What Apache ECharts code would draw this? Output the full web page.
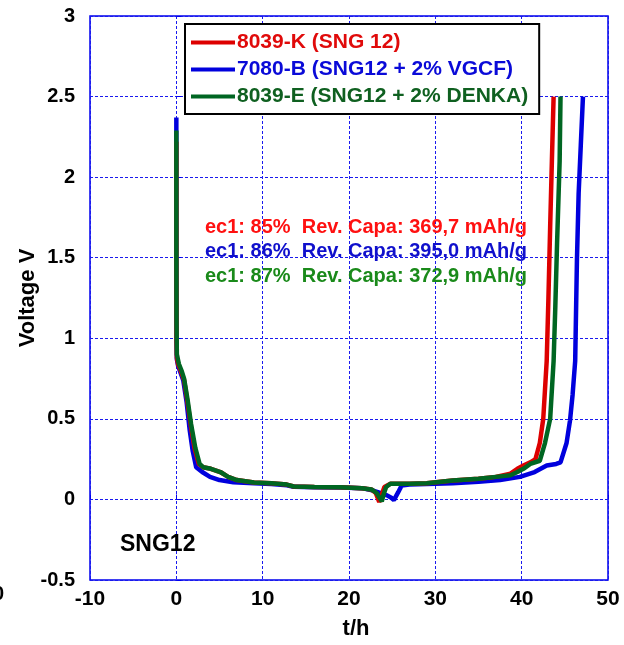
<!DOCTYPE html>
<html>
<head>
<meta charset="utf-8">
<script src="https://cdn.jsdelivr.net/npm/echarts@6/dist/echarts.min.js"></script>
<style>html,body{margin:0;padding:0;background:#fff;}#c{width:624px;height:645px;}</style>
</head>
<body>
<div id="c"></div>
<script>
// ---- data ----
const seriesNames = ['8039-K (SNG 12)', '7080-B (SNG12 + 2% VGCF)', '8039-E (SNG12 + 2% DENKA)'];
const xTicks = [-10, 0, 10, 20, 30, 40, 50];
const yTicks = [-0.5, 0, 0.5, 1, 1.5, 2, 2.5, 3];

const tRed = [0, 0.005, 0.02, 0.06, 0.2, 0.5, 0.9, 1.3, 1.7, 2.1, 2.6, 3.1, 4.0, 5.1, 6.0, 7.0, 9, 11, 12.8, 13.6, 16, 19, 21.5, 22.6, 23.1, 23.5, 23.8, 24.1, 24.8, 27, 29, 32, 35, 37, 38.7, 39.5, 40.2, 41.0, 41.6, 42.1, 42.5, 42.9, 43.1, 43.3, 43.5, 43.7];
const vRed = [2.22, 1.4, 1.0, 0.88, 0.84, 0.8, 0.74, 0.6, 0.45, 0.32, 0.22, 0.2, 0.19, 0.17, 0.14, 0.12, 0.105, 0.1, 0.092, 0.08, 0.077, 0.075, 0.07, 0.062, 0.04, -0.016, 0.03, 0.077, 0.097, 0.098, 0.1, 0.118, 0.128, 0.14, 0.16, 0.19, 0.21, 0.23, 0.25, 0.35, 0.5, 0.86, 1.25, 1.69, 2.1, 2.5];

const tBlue = [0, 0.005, 0.02, 0.06, 0.2, 0.8, 1.2, 1.55, 1.9, 2.3, 3.0, 3.9, 5.0, 6.6, 9, 11, 12.8, 13.6, 16, 19, 21.5, 22.8, 23.6, 24.4, 24.9, 25.2, 25.7, 26.1, 27, 29, 32, 35, 37.5, 39.8, 41.5, 42.9, 44.0, 44.5, 45.2, 45.6, 45.9, 46.2, 46.4, 46.6, 46.85, 47.1];
const vBlue = [2.37, 1.3, 1.0, 0.87, 0.83, 0.74, 0.6, 0.43, 0.3, 0.2, 0.17, 0.14, 0.12, 0.107, 0.1, 0.095, 0.088, 0.078, 0.076, 0.074, 0.07, 0.055, 0.04, 0.025, 0.01, -0.004, 0.045, 0.087, 0.092, 0.095, 0.1, 0.11, 0.12, 0.14, 0.17, 0.21, 0.22, 0.23, 0.35, 0.49, 0.65, 0.86, 1.48, 1.9, 2.2, 2.5];

const tGreen = [0, 0.005, 0.02, 0.06, 0.3, 0.6, 0.9, 1.3, 1.7, 2.2, 2.7, 3.1, 4.0, 5.1, 6.0, 7.0, 9, 11, 12.8, 13.6, 16, 19, 21.5, 22.6, 23.2, 23.8, 24.0, 24.3, 24.8, 27, 29, 32, 35, 37, 38.7, 39.5, 40.2, 41.0, 42.1, 42.7, 43.3, 43.7, 43.9, 44.1, 44.4, 44.5];
const vGreen = [2.29, 1.5, 1.1, 0.9, 0.84, 0.8, 0.75, 0.62, 0.47, 0.32, 0.22, 0.2, 0.19, 0.17, 0.14, 0.12, 0.105, 0.1, 0.092, 0.08, 0.077, 0.075, 0.07, 0.062, 0.04, -0.012, 0.03, 0.077, 0.097, 0.098, 0.1, 0.118, 0.128, 0.14, 0.15, 0.17, 0.19, 0.22, 0.24, 0.35, 0.5, 0.86, 1.2, 1.59, 2.1, 2.5];

const statLines = [
  'ec1: 85%  Rev. Capa: 369,7 mAh/g',
  'ec1: 86%  Rev. Capa: 395,0 mAh/g',
  'ec1: 87%  Rev. Capa: 372,9 mAh/g'
];
const sampleLabel = 'SNG12';
const xName = 't/h';
const yName = 'Voltage V';

// ---- styles ----
const lineColors = {red: '#dd0000', blue: '#0000dd', green: '#006622'};
const statColors = ['#ff1010', '#1010cc', '#1a8a1a'];
const FONT = 'Liberation Sans, Arial, Helvetica, sans-serif';
const gridBlue = '#1a1aee';

function zip(t, v) { return t.map((x, i) => [x, v[i]]); }

const chart = echarts.init(document.getElementById('c'), null, {renderer: 'canvas'});

const option = {
  backgroundColor: '#ffffff',
  animation: false,
  grid: {left: 90, right: 16, top: 16, bottom: 65, show: true, borderColor: '#0000ee', borderWidth: 1.5, backgroundColor: 'transparent'},
  xAxis: {
    type: 'value', min: xTicks[0], max: xTicks[xTicks.length - 1], interval: 10,
    name: xName, nameLocation: 'middle', nameGap: 38,
    nameTextStyle: {fontFamily: FONT, fontWeight: 'bold', fontSize: 22, color: '#000', padding: [0, 0, 0, 14]},
    axisLine: {show: false},
    axisTick: {show: true, inside: true, length: 5, lineStyle: {color: '#0000ee'}},
    axisLabel: {margin: 9, fontFamily: FONT, fontWeight: 'bold', fontSize: 21, color: '#000'},
    splitLine: {show: true, lineStyle: {color: gridBlue, type: [3, 2], width: 1}}
  },
  yAxis: {
    type: 'value', min: yTicks[0], max: yTicks[yTicks.length - 1], interval: 0.5,
    name: yName, nameLocation: 'middle', nameGap: 51, nameRotate: 90, nameMoveOverlap: false,
    nameTextStyle: {fontFamily: FONT, fontWeight: 'bold', fontSize: 22, color: '#000'},
    axisLine: {show: false},
    axisTick: {show: true, inside: true, length: 5, lineStyle: {color: '#0000ee'}},
    axisLabel: {margin: 15, fontFamily: FONT, fontWeight: 'bold', fontSize: 20, color: '#000'},
    splitLine: {show: true, lineStyle: {color: gridBlue, type: [3, 2], width: 1}}
  },
  legend: {
    orient: 'vertical', left: 185, top: 24,
    backgroundColor: '#fff', borderColor: '#000', borderWidth: 2, borderRadius: 0,
    padding: [8, 11, 7, 6], itemGap: 6, itemWidth: 44, itemHeight: 4, icon: 'rect',
    textStyle: {fontFamily: FONT, fontWeight: 'bold', fontSize: 21, lineHeight: 21, padding: [0, 0, 0, -3]},
    data: [
      {name: seriesNames[0], textStyle: {color: '#e00a0a'}},
      {name: seriesNames[1], textStyle: {color: '#0a0ad8'}},
      {name: seriesNames[2], textStyle: {color: '#0f6020'}}
    ]
  },
  series: [
    {name: seriesNames[1], type: 'line', data: zip(tBlue, vBlue), showSymbol: false, color: lineColors.blue, lineStyle: {width: 4.5, color: lineColors.blue}, z: 2},
    {name: seriesNames[0], type: 'line', data: zip(tRed, vRed), showSymbol: false, color: lineColors.red, lineStyle: {width: 4.5, color: lineColors.red}, z: 3},
    {name: seriesNames[2], type: 'line', data: zip(tGreen, vGreen), showSymbol: false, color: lineColors.green, lineStyle: {width: 4.5, color: lineColors.green}, z: 4}
  ],
  graphic: [
    {type: 'text', left: 205, top: 217, z: 10, style: {text: statLines[0], fill: statColors[0], font: 'bold 20px ' + FONT}},
    {type: 'text', left: 205, top: 241, z: 10, style: {text: statLines[1], fill: statColors[1], font: 'bold 20px ' + FONT}},
    {type: 'text', left: 205, top: 266, z: 10, style: {text: statLines[2], fill: statColors[2], font: 'bold 20px ' + FONT}},
    {type: 'text', left: 120, top: 533, z: 10, style: {text: sampleLabel, fill: '#000', font: 'bold 23px ' + FONT}},
    {type: 'text', left: -7, top: 584, z: 10, style: {text: '0', fill: '#000', font: 'bold 20px ' + FONT}}
  ]
};
chart.setOption(option);
</script>
</body>
</html>
